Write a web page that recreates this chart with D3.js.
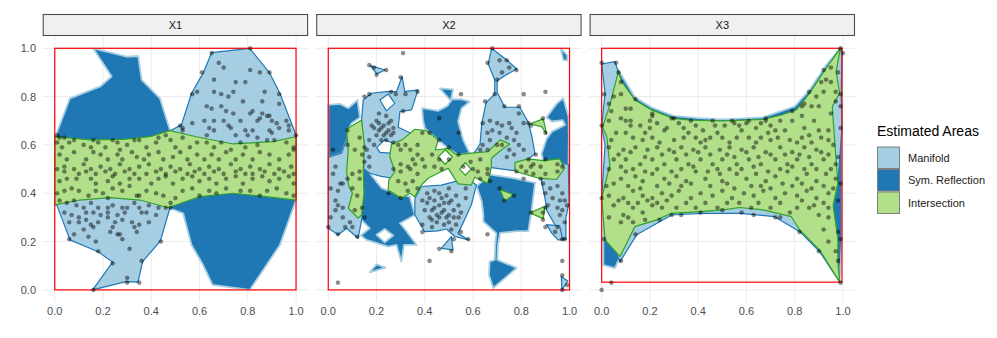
<!DOCTYPE html>
<html>
<head>
<meta charset="utf-8">
<script src="https://cdn.jsdelivr.net/npm/d3@7"></script>
<style>
  body { margin: 0; background: #fff; }
  svg { display: block; font-family: "Liberation Sans", Arial, sans-serif; }
</style>
</head>
<body>
<svg id="chart" width="997" height="338"></svg>
<script>
// ---- data ----
const facets = ['X1', 'X2', 'X3'];
const ticks = [0, 0.2, 0.4, 0.6, 0.8, 1.0];
const areaNames = ['Manifold', 'Sym. Reflection', 'Intersection'];

// red bounding boxes [x0, y0, x1, y1]
const redBoxes = [[0, 0, 1, 1], [0, 0, 1, 1], [0, 0.032, 0.996, 1]];

// each area = list of polygons, each polygon = list of rings (first outer, rest holes)
const manifoldX1 = [[[[0.0,0.634],[0.146,0.621],[0.284,0.623],[0.394,0.634],[0.477,0.659],[0.484,0.662],[0.525,0.683],[0.567,0.814],[0.615,0.897],[0.65,0.982],[0.808,1.0],[0.891,0.897],[0.933,0.814],[1.0,0.641],[1.0,0.372],[0.877,0.386],[0.739,0.40],[0.601,0.386],[0.477,0.338],[0.438,0.203],[0.364,0.117],[0.345,0.032],[0.295,0.034],[0.157,0.0],[0.24,0.115],[0.18,0.158],[0.063,0.207],[0.008,0.352]]]];
const symX1 = [[[[0.005,0.641],[0.063,0.793],[0.187,0.841],[0.236,0.883],[0.159,1.0],[0.298,0.965],[0.346,0.968],[0.36,0.869],[0.436,0.793],[0.477,0.662],[0.587,0.634],[0.739,0.604],[0.905,0.614],[1.0,0.634],[1.0,0.372],[0.933,0.186],[0.85,0.062],[0.808,0.0],[0.654,0.021],[0.615,0.103],[0.567,0.186],[0.532,0.317],[0.477,0.338],[0.353,0.372],[0.229,0.382],[0.104,0.372],[0.0,0.352]]]];
const interX1 = [[[[0.001,0.634],[0.146,0.621],[0.284,0.623],[0.394,0.634],[0.477,0.659],[0.587,0.634],[0.739,0.604],[0.905,0.614],[1.0,0.634],[1.0,0.372],[0.877,0.386],[0.739,0.40],[0.601,0.386],[0.47,0.34],[0.353,0.372],[0.229,0.382],[0.104,0.372],[0.0,0.352]]]];

const manifoldX2 = [
  [[[0.174,0.928],[0.201,0.894],[0.236,0.91]]],
  [[[0,0.549],[0.055,0.566],[0.076,0.621],[0.083,0.662],[0.14,0.70],[0.15,0.6],[0.148,0.45],[0.145,0.34],[0.14,0.30],[0.124,0.214],[0.076,0.255],[0.041,0.228],[0,0.255]]],
  [[[0.138,0.703],[0.145,0.786],[0.179,0.814],[0.241,0.821],[0.283,0.821],[0.306,0.883],[0.317,0.821],[0.372,0.828],[0.345,0.745],[0.297,0.738],[0.29,0.673],[0.36,0.64],[0.33,0.5],[0.28,0.46],[0.22,0.47],[0.172,0.483],[0.148,0.50],[0.145,0.6]],
   [[0.214,0.786],[0.248,0.811],[0.276,0.772],[0.241,0.741]],
   [[0.201,0.59],[0.234,0.621],[0.269,0.607],[0.255,0.566],[0.214,0.569]]],
  [[[0.359,0.379],[0.386,0.428],[0.469,0.434],[0.524,0.448],[0.572,0.462],[0.614,0.434],[0.593,0.352],[0.568,0.297],[0.538,0.234],[0.582,0.207],[0.524,0.221],[0.49,0.252],[0.455,0.244],[0.40,0.241],[0.379,0.276],[0.359,0.31]]],
  [[[0.469,0.172],[0.51,0.221],[0.517,0.166]]],
  [[[0.677,1.0],[0.746,0.946],[0.781,0.914],[0.739,0.891],[0.70,0.866],[0.70,0.818],[0.732,0.756],[0.794,0.756],[0.829,0.694],[0.843,0.639],[0.857,0.563],[0.829,0.542],[0.767,0.494],[0.66,0.508],[0.602,0.563],[0.629,0.604],[0.636,0.687],[0.654,0.775],[0.69,0.81],[0.69,0.869],[0.663,0.935]]],
  [[[0.88,0.52],[0.995,0.52],[0.998,0.36],[0.985,0.30],[0.985,0.21],[0.965,0.21],[0.945,0.26],[0.905,0.33],[0.90,0.37],[0.884,0.45]]],
  [[[0.905,0.27],[0.959,0.265],[0.972,0.207],[0.952,0.207],[0.927,0.234]]],
  [[[0.966,0.055],[0.993,0.037],[0.968,0.0]]]
];
const symX2 = [
  [[[0,0.766],[0.048,0.770],[0.083,0.752],[0.121,0.786],[0.131,0.714],[0.097,0.690],[0.083,0.662],[0.076,0.621],[0.055,0.566],[0,0.549]]],
  [[[0.462,0.834],[0.517,0.830],[0.508,0.783]]],
  [[[0.963,1.0],[0.99,0.972],[0.99,0.949],[0.974,0.952]]],
  [[[0.389,0.752],[0.455,0.741],[0.494,0.761],[0.513,0.789],[0.552,0.789],[0.586,0.779],[0.552,0.752],[0.538,0.697],[0.559,0.621],[0.586,0.566],[0.538,0.559],[0.497,0.586],[0.455,0.621],[0.40,0.669],[0.393,0.703]]],
  [[[0.974,0.793],[0.946,0.770],[0.905,0.714],[0.927,0.697],[0.972,0.703],[0.982,0.683],[0.927,0.655],[0.905,0.625],[0.884,0.563],[0.894,0.527],[0.996,0.517],[0.997,0.621],[0.996,0.717]]],
  [[[0.615,0.429],[0.670,0.477],[0.767,0.463],[0.857,0.443],[0.843,0.332],[0.829,0.243],[0.781,0.243],[0.712,0.236],[0.703,0.186],[0.701,0.124],[0.781,0.091],[0.684,0.008],[0.666,0.062],[0.669,0.117],[0.690,0.124],[0.692,0.186],[0.697,0.234],[0.643,0.283],[0.643,0.312],[0.636,0.367]]],
  [[[0.138,0.517],[0.172,0.483],[0.221,0.421],[0.276,0.40],[0.338,0.386],[0.359,0.310],[0.297,0.276],[0.32,0.248],[0.366,0.186],[0.314,0.186],[0.303,0.117],[0.283,0.186],[0.248,0.179],[0.159,0.207],[0.135,0.225],[0.172,0.255],[0.138,0.290],[0.124,0.352],[0.124,0.434],[0.131,0.49]],
   [[0.2,0.228],[0.234,0.252],[0.269,0.225],[0.234,0.197]]],
  [[[0.172,0.073],[0.237,0.092],[0.2,0.106]]]
];
const interX2 = [
  [[[0.076,0.665],[0.138,0.703],[0.15,0.6],[0.145,0.497],[0.148,0.40],[0.138,0.31],[0.124,0.297],[0.083,0.338],[0.10,0.40],[0.085,0.43],[0.076,0.49],[0.083,0.579]]],
  [[[0.262,0.604],[0.306,0.621],[0.359,0.665],[0.407,0.659],[0.455,0.621],[0.444,0.579],[0.497,0.586],[0.531,0.559],[0.593,0.566],[0.662,0.572],[0.712,0.621],[0.752,0.604],[0.717,0.579],[0.676,0.545],[0.676,0.510],[0.662,0.441],[0.607,0.466],[0.593,0.434],[0.538,0.439],[0.497,0.503],[0.469,0.49],[0.414,0.462],[0.386,0.434],[0.359,0.386],[0.338,0.40],[0.303,0.379],[0.248,0.414],[0.251,0.455],[0.276,0.49],[0.255,0.552]],
   [[0.455,0.55],[0.485,0.58],[0.515,0.55],[0.485,0.52]],
   [[0.545,0.50],[0.568,0.527],[0.592,0.50],[0.568,0.474]]],
  [[[0.774,0.528],[0.829,0.542],[0.891,0.535],[0.96,0.542],[0.979,0.503],[0.946,0.457],[0.870,0.463],[0.822,0.477],[0.774,0.491]]],
  [[[0.836,0.687],[0.891,0.708],[0.905,0.646],[0.884,0.676]]],
  [[[0.836,0.319],[0.898,0.346],[0.891,0.295]]],
  [[[0.712,0.415],[0.767,0.394],[0.732,0.367]]]
];

const manifoldX3 = [[[[0,0.935],[0.055,0.945],[0.069,0.903],[0.083,0.862],[0.138,0.786],[0.207,0.745],[0.297,0.71],[0.366,0.703],[0.503,0.699],[0.669,0.706],[0.745,0.724],[0.807,0.745],[0.862,0.814],[0.924,0.908],[0.989,1.0],[0.996,0.985],[0.993,0.80],[0.996,0.673],[0.979,0.434],[0.959,0.324],[0.979,0.207],[0.979,0.117],[0.986,0.034],[0.903,0.159],[0.821,0.241],[0.717,0.303],[0.579,0.317],[0.414,0.317],[0.29,0.31],[0.145,0.228],[0.076,0.117],[0.04,0.2],[0.0,0.379],[0.014,0.6],[0.0,0.676],[0.014,0.814]]]];
const symX3 = [[[[0.069,0.91],[0.138,0.797],[0.207,0.755],[0.297,0.72],[0.40,0.711],[0.503,0.706],[0.669,0.714],[0.738,0.738],[0.80,0.759],[0.862,0.828],[0.931,0.931],[0.989,1.0],[0.996,0.98],[0.996,0.2],[0.986,0.034],[0.903,0.166],[0.821,0.248],[0.786,0.303],[0.669,0.331],[0.572,0.341],[0.503,0.331],[0.407,0.324],[0.29,0.317],[0.228,0.29],[0.138,0.262],[0.076,0.138],[0.055,0.09],[0.007,0.103],[0.007,0.38],[0.034,0.503],[0.014,0.676],[0.034,0.766]]]];
const interX3 = [[[[0.004,0.673],[0.034,0.766],[0.069,0.903],[0.083,0.862],[0.138,0.786],[0.207,0.745],[0.297,0.71],[0.366,0.703],[0.503,0.699],[0.669,0.706],[0.745,0.724],[0.807,0.745],[0.862,0.814],[0.924,0.908],[0.989,1.0],[0.972,0.903],[0.986,0.814],[0.956,0.759],[0.959,0.71],[0.979,0.441],[0.959,0.35],[0.979,0.214],[0.979,0.117],[0.986,0.034],[0.903,0.166],[0.821,0.248],[0.786,0.303],[0.669,0.331],[0.572,0.341],[0.503,0.331],[0.407,0.324],[0.29,0.317],[0.228,0.29],[0.138,0.262],[0.076,0.138],[0.014,0.207],[0.0,0.379],[0.034,0.517],[0.021,0.634]]]];

const pointsX1 = [
  [0.68,0.94],[0.70,0.92],[0.81,0.91],[0.85,0.90],[0.66,0.87],[0.79,0.86],[0.75,0.86],[0.59,0.82],[0.66,0.82],[0.69,0.81],[0.74,0.82],[0.78,0.78],[0.87,0.82],[0.86,0.78],[0.93,0.77],[0.63,0.76],[0.69,0.76],[0.65,0.75],[0.71,0.74],[0.74,0.73],[0.81,0.73],[0.82,0.74],[0.86,0.73],[0.89,0.72],[0.90,0.70],[0.92,0.69],[0.62,0.70],[0.57,0.69],[0.66,0.70],[0.70,0.70],[0.77,0.70],[0.84,0.70],[0.85,0.71],[0.88,0.72],[0.53,0.67],[0.64,0.67],[0.66,0.66],[0.73,0.67],[0.72,0.68],[0.79,0.66],[0.82,0.66],[0.93,0.67],[0.97,0.68],[0.53,0.66],[0.63,0.64],[0.75,0.64],[0.80,0.64],[0.84,0.63],[0.89,0.66],[0.97,0.66],[0.90,0.65],[0.65,0.98],[0.81,1.0],[0.57,0.81],[0.89,0.90],[0.93,0.81],[0.52,0.68],[1.0,0.64],[0.61,0.90],[0.72,0.80],[0.96,0.70],
  [0.01,0.64],[0.02,0.63],[0.04,0.63],[0.08,0.62],[0.01,0.61],[0.03,0.59],[0.06,0.61],[0.12,0.60],[0.15,0.59],[0.16,0.62],[0.18,0.61],[0.21,0.59],[0.24,0.62],[0.26,0.61],[0.27,0.58],[0.30,0.60],[0.33,0.62],[0.35,0.62],[0.38,0.59],[0.42,0.61],[0.43,0.63],[0.46,0.64],[0.48,0.62],[0.50,0.59],[0.53,0.63],[0.56,0.59],[0.59,0.61],[0.63,0.61],[0.66,0.59],[0.69,0.61],[0.73,0.58],[0.77,0.61],[0.79,0.59],[0.84,0.60],[0.88,0.62],[0.91,0.62],[0.96,0.61],[0.99,0.59],
  [0.02,0.56],[0.05,0.54],[0.08,0.57],[0.13,0.54],[0.16,0.57],[0.19,0.56],[0.22,0.54],[0.26,0.56],[0.28,0.54],[0.32,0.57],[0.34,0.55],[0.37,0.54],[0.39,0.56],[0.43,0.57],[0.45,0.54],[0.49,0.55],[0.52,0.57],[0.55,0.54],[0.59,0.56],[0.62,0.54],[0.65,0.56],[0.68,0.54],[0.71,0.57],[0.75,0.54],[0.78,0.56],[0.82,0.54],[0.85,0.57],[0.89,0.56],[0.93,0.54],[0.97,0.56],[0.99,0.58],
  [0.04,0.51],[0.08,0.50],[0.12,0.52],[0.15,0.50],[0.19,0.51],[0.23,0.50],[0.27,0.52],[0.31,0.50],[0.35,0.51],[0.39,0.52],[0.44,0.50],[0.48,0.51],[0.52,0.50],[0.56,0.52],[0.60,0.50],[0.64,0.51],[0.68,0.50],[0.73,0.52],[0.77,0.50],[0.81,0.51],[0.85,0.50],[0.89,0.52],[0.93,0.50],[0.98,0.51],
  [0.01,0.50],[0.04,0.49],[0.10,0.48],[0.13,0.49],[0.17,0.48],[0.21,0.49],[0.25,0.48],[0.29,0.49],[0.33,0.48],[0.38,0.48],[0.42,0.49],[0.46,0.48],[0.50,0.49],[0.55,0.48],[0.58,0.49],[0.62,0.48],[0.66,0.49],[0.70,0.48],[0.75,0.49],[0.79,0.48],[0.82,0.48],[0.87,0.49],[0.91,0.48],[0.95,0.49],[0.99,0.48],
  [0.02,0.45],[0.05,0.46],[0.09,0.46],[0.15,0.46],[0.17,0.44],[0.22,0.45],[0.24,0.47],[0.27,0.44],[0.31,0.46],[0.35,0.46],[0.40,0.44],[0.43,0.46],[0.46,0.47],[0.49,0.44],[0.53,0.46],[0.57,0.47],[0.60,0.45],[0.64,0.46],[0.67,0.44],[0.71,0.46],[0.75,0.47],[0.78,0.44],[0.82,0.46],[0.86,0.47],[0.89,0.45],[0.93,0.46],[0.97,0.47],[0.99,0.44],
  [0.01,0.40],[0.04,0.41],[0.07,0.42],[0.10,0.41],[0.14,0.39],[0.17,0.41],[0.20,0.40],[0.24,0.42],[0.28,0.41],[0.31,0.43],[0.34,0.39],[0.38,0.41],[0.42,0.40],[0.45,0.39],[0.48,0.36],[0.50,0.38],[0.53,0.41],[0.57,0.42],[0.60,0.39],[0.64,0.41],[0.67,0.40],[0.71,0.42],[0.77,0.41],[0.81,0.41],[0.85,0.39],[0.88,0.41],[0.92,0.42],[0.96,0.40],[0.99,0.39],[0.02,0.37],[0.08,0.37],[0.22,0.38],[0.35,0.39],
  [0.05,0.36],[0.09,0.35],[0.12,0.34],[0.15,0.36],[0.18,0.34],[0.22,0.34],[0.24,0.35],[0.28,0.34],[0.30,0.34],[0.33,0.36],[0.35,0.34],[0.39,0.35],[0.43,0.34],[0.46,0.34],
  [0.04,0.32],[0.07,0.31],[0.10,0.30],[0.13,0.32],[0.16,0.32],[0.19,0.31],[0.22,0.32],[0.26,0.31],[0.29,0.32],[0.36,0.32],[0.38,0.32],[0.42,0.31],
  [0.06,0.28],[0.10,0.28],[0.13,0.29],[0.15,0.27],[0.18,0.28],[0.22,0.30],[0.25,0.28],[0.28,0.29],[0.32,0.28],[0.35,0.27],[0.39,0.28],
  [0.08,0.23],[0.14,0.22],[0.23,0.24],[0.26,0.23],[0.28,0.21],[0.33,0.26],[0.34,0.24],[0.27,0.23],[0.24,0.26],[0.16,0.26],[0.12,0.25],[0.31,0.17],[0.17,0.20],
  [0.06,0.21],[0.18,0.16],[0.24,0.11],[0.16,0.0],[0.30,0.03],[0.35,0.03],[0.36,0.12],[0.44,0.20],[0.30,0.05],[0.48,0.34]
];

const pointsX2 = [
  [0.31,0.98],[0.17,0.93],[0.20,0.89],[0.24,0.91],[0.19,0.92],[0.30,0.88],[0.28,0.81],[0.37,0.82],[0.32,0.81],[0.26,0.82],[0.17,0.81],[0.15,0.80],[0.31,0.74],[0.21,0.73],[0.24,0.72],[0.26,0.70],[0.21,0.69],[0.18,0.68],[0.19,0.67],[0.22,0.67],[0.25,0.66],[0.27,0.65],[0.24,0.65],[0.20,0.64],[0.22,0.62],[0.24,0.62],[0.17,0.62],[0.19,0.60],[0.16,0.58],[0.15,0.59],[0.14,0.56],[0.17,0.55],[0.15,0.53],[0.17,0.51],[0.11,0.58],[0.08,0.60],[0.08,0.66],[0.13,0.63],[0.02,0.58],[0.03,0.51],
  [0.23,0.68],[0.25,0.69],[0.21,0.66],[0.23,0.64],[0.26,0.64],[0.20,0.70],[0.27,0.67],
  [0.29,0.60],[0.32,0.60],[0.30,0.58],[0.34,0.58],[0.37,0.60],[0.39,0.65],[0.42,0.65],[0.37,0.56],[0.35,0.54],[0.33,0.51],[0.36,0.52],[0.39,0.54],[0.40,0.51],[0.30,0.52],[0.43,0.56],[0.46,0.54],[0.44,0.51],[0.47,0.50],[0.46,0.62],[0.46,0.71],[0.27,0.61],
  [0.68,1.0],[0.66,0.94],[0.71,0.95],[0.74,0.95],[0.75,0.92],[0.78,0.91],[0.72,0.90],[0.70,0.87],[0.69,0.81],[0.55,0.81],[0.81,0.81],[0.90,0.82],[0.65,0.78],[0.73,0.76],[0.79,0.76],[0.79,0.73],[0.75,0.69],[0.70,0.69],[0.67,0.70],[0.64,0.69],[0.72,0.68],[0.76,0.67],[0.81,0.69],[0.83,0.69],[0.89,0.71],[0.90,0.65],[0.84,0.68],[0.68,0.66],[0.66,0.65],[0.71,0.65],[0.74,0.63],[0.78,0.65],[0.77,0.62],[0.79,0.60],[0.70,0.60],[0.67,0.62],[0.64,0.60],[0.63,0.58],[0.66,0.58],[0.72,0.60],[0.75,0.58],[0.81,0.58],[0.77,0.56],[0.86,0.56],[0.83,0.54],[0.74,0.55],[0.54,0.65],[0.50,0.59],[0.50,0.54],[0.54,0.56],[0.59,0.53],[0.63,0.54],[0.66,0.50],[0.60,0.50],[0.56,0.51],[0.85,0.52],[0.84,0.51],[0.88,0.51],[0.90,0.54],[0.95,0.52],[0.97,0.51],[0.80,0.51],
  [0.02,0.48],[0.01,0.42],[0.04,0.41],[0.05,0.44],[0.03,0.37],[0.04,0.35],[0.06,0.34],[0.03,0.33],[0.06,0.30],[0.01,0.30],[0.00,0.26],[0.04,0.23],[0.10,0.26],[0.12,0.22],[0.07,0.26],[0.09,0.28],[0.06,0.44],[0.08,0.46],[0.10,0.48],[0.13,0.46],[0.13,0.49],[0.10,0.42],[0.12,0.39],[0.14,0.34],[0.15,0.30],[0.11,0.33],
  [0.27,0.50],[0.30,0.49],[0.34,0.50],[0.37,0.48],[0.29,0.45],[0.32,0.44],[0.35,0.45],[0.37,0.42],[0.30,0.38],[0.33,0.41],[0.25,0.40],
  [0.39,0.37],[0.42,0.38],[0.44,0.37],[0.47,0.38],[0.50,0.36],[0.40,0.33],[0.43,0.33],[0.46,0.35],[0.48,0.33],[0.45,0.31],[0.42,0.30],[0.46,0.30],[0.49,0.30],[0.39,0.27],[0.43,0.26],[0.39,0.24],[0.46,0.17],[0.42,0.12],[0.04,0.03],
  [0.41,0.36],[0.44,0.34],[0.47,0.32],[0.43,0.29],[0.45,0.28],[0.48,0.27],[0.50,0.28],[0.52,0.30],[0.48,0.36],[0.46,0.40],[0.49,0.39],[0.44,0.41],[0.41,0.40],
  [0.50,0.42],[0.53,0.39],[0.51,0.37],[0.54,0.35],[0.52,0.33],[0.50,0.31],[0.54,0.30],[0.55,0.32],[0.53,0.27],[0.51,0.25],[0.55,0.24],[0.52,0.21],[0.58,0.21],[0.51,0.16],[0.57,0.42],[0.57,0.38],
  [0.78,0.49],[0.82,0.49],[0.85,0.48],[0.90,0.48],[0.95,0.49],[0.81,0.46],[0.88,0.46],[0.62,0.49],[0.66,0.48],[0.63,0.46],[0.67,0.45],[0.71,0.42],[0.77,0.39],[0.73,0.37],
  [0.89,0.44],[0.92,0.42],[0.95,0.43],[0.97,0.40],[0.90,0.40],[0.93,0.38],[0.96,0.37],[0.98,0.37],[0.91,0.35],[0.95,0.34],[0.97,0.33],[0.99,0.35],[0.89,0.32],[0.84,0.32],[0.90,0.34],[0.89,0.29],[0.96,0.31],[0.98,0.28],[0.90,0.26],[0.95,0.26],[0.97,0.21],[0.98,0.21],[0.94,0.24],[0.66,0.23],[0.97,0.12],[0.97,0.06],[0.99,0.02],[0.97,0.0]
];

const pointsX3 = [
  [0.0,0.94],[0.06,0.94],[0.07,0.90],[0.08,0.86],[0.08,0.81],[0.01,0.81],[0.03,0.77],[0.04,0.74],[0.0,0.68],[0.99,1.0],[1.0,0.98],[0.98,0.90],[0.95,0.92],[0.92,0.91],[0.93,0.87],[0.86,0.82],[0.92,0.82],[0.97,0.82],[0.99,0.81],[0.83,0.76],[0.87,0.76],[0.90,0.76],[0.99,0.76],[0.79,0.74],[0.83,0.72],[0.99,0.67],[0.94,0.66],[0.90,0.66],[0.86,0.64],
  [0.10,0.75],[0.12,0.75],[0.08,0.71],[0.10,0.70],[0.14,0.79],[0.21,0.72],[0.20,0.70],[0.30,0.71],[0.37,0.70],[0.46,0.70],[0.54,0.70],[0.61,0.70],[0.68,0.70],[0.16,0.68],[0.20,0.67],[0.27,0.67],[0.34,0.67],[0.39,0.68],[0.47,0.68],[0.51,0.68],[0.60,0.69],[0.64,0.67],[0.70,0.68],[0.74,0.70],[0.79,0.70],
  [0.06,0.65],[0.10,0.65],[0.13,0.63],[0.17,0.62],[0.21,0.63],[0.26,0.66],[0.30,0.62],[0.34,0.63],[0.39,0.63],[0.43,0.62],[0.45,0.63],[0.50,0.63],[0.56,0.63],[0.61,0.63],[0.66,0.63],[0.70,0.62],[0.73,0.63],[0.78,0.62],[0.83,0.63],[0.94,0.62],
  [0.03,0.59],[0.09,0.58],[0.14,0.59],[0.19,0.58],[0.23,0.59],[0.28,0.58],[0.33,0.59],[0.38,0.58],[0.43,0.59],[0.49,0.58],[0.53,0.59],[0.58,0.58],[0.63,0.59],[0.68,0.57],[0.74,0.59],[0.79,0.57],[0.84,0.59],[0.89,0.58],[0.94,0.56],[0.98,0.55],
  [0.05,0.54],[0.10,0.54],[0.16,0.52],[0.21,0.54],[0.26,0.52],[0.31,0.54],[0.36,0.52],[0.41,0.54],[0.46,0.52],[0.50,0.54],[0.56,0.52],[0.61,0.54],[0.66,0.52],[0.72,0.54],[0.77,0.52],[0.81,0.54],[0.87,0.52],[0.92,0.54],[0.97,0.52],
  [0.02,0.43],[0.08,0.46],[0.10,0.49],[0.14,0.47],[0.17,0.45],[0.21,0.48],[0.26,0.46],[0.31,0.47],[0.35,0.45],[0.39,0.49],[0.43,0.46],[0.48,0.50],[0.52,0.44],[0.56,0.48],[0.60,0.46],[0.64,0.48],[0.68,0.45],[0.72,0.47],[0.77,0.49],[0.81,0.46],[0.85,0.48],[0.89,0.45],[0.93,0.48],[0.97,0.46],[0.99,0.44],
  [0.03,0.39],[0.09,0.38],[0.13,0.41],[0.17,0.39],[0.21,0.38],[0.25,0.40],[0.29,0.39],[0.32,0.41],[0.37,0.38],[0.41,0.40],[0.46,0.39],[0.50,0.41],[0.54,0.38],[0.59,0.40],[0.63,0.39],[0.67,0.41],[0.72,0.38],[0.76,0.40],[0.81,0.39],[0.85,0.41],[0.89,0.38],[0.94,0.40],
  [0.0,0.38],[0.05,0.35],[0.09,0.31],[0.13,0.34],[0.17,0.32],[0.21,0.35],[0.25,0.34],[0.31,0.34],[0.39,0.34],[0.48,0.34],[0.62,0.34],[0.70,0.34],[0.78,0.32],[0.81,0.34],[0.86,0.34],[0.90,0.31],[0.94,0.34],[0.98,0.37],
  [0.03,0.30],[0.08,0.28],[0.13,0.28],[0.24,0.29],[0.94,0.30],[0.92,0.25],[0.98,0.24],[0.94,0.20],[0.97,0.16],[0.98,0.12],[0.99,0.21],[0.99,0.03],
  [0.14,0.23],[0.29,0.31],[0.33,0.31],[0.41,0.32],[0.50,0.33],[0.58,0.32],[0.63,0.31],[0.72,0.30],[0.74,0.30],[0.82,0.24],[0.90,0.16],[0.08,0.12],[0.01,0.21],[0.04,0.03],[0.0,0.0],
  [0.21,0.73],[0.29,0.71],[0.55,0.69],[0.68,0.71],
  [0.12,0.70],[0.18,0.65],[0.24,0.61],[0.36,0.65],[0.41,0.61],[0.48,0.65],[0.53,0.61],[0.58,0.66],[0.64,0.61],[0.69,0.65],[0.76,0.66],[0.81,0.61],[0.87,0.61],[0.91,0.63],[0.96,0.60],[0.07,0.56],[0.12,0.57],[0.18,0.55],[0.25,0.56],[0.30,0.57],[0.35,0.56],[0.40,0.57],[0.45,0.56],[0.52,0.56],[0.55,0.55],[0.60,0.57],[0.65,0.55],[0.70,0.56],[0.76,0.56],[0.82,0.56],[0.86,0.55],[0.91,0.57],
  [0.03,0.50],[0.08,0.51],[0.13,0.50],[0.18,0.49],[0.23,0.50],[0.29,0.49],[0.33,0.50],[0.38,0.51],[0.44,0.49],[0.49,0.48],[0.53,0.50],[0.58,0.50],[0.63,0.51],[0.69,0.49],[0.74,0.50],[0.79,0.51],[0.84,0.50],[0.89,0.50],[0.95,0.50],
  [0.05,0.44],[0.11,0.43],[0.16,0.42],[0.23,0.43],[0.28,0.44],[0.33,0.43],[0.37,0.44],[0.45,0.43],[0.50,0.45],[0.55,0.42],[0.62,0.43],[0.66,0.43],[0.70,0.42],[0.75,0.44],[0.79,0.43],[0.83,0.44],[0.87,0.42],[0.92,0.43],[0.96,0.42],
  [0.07,0.37],[0.11,0.36],[0.15,0.36],[0.19,0.37],[0.23,0.36],[0.27,0.37],[0.35,0.36],[0.43,0.36],[0.52,0.36],[0.57,0.36],[0.65,0.36],[0.74,0.36],[0.83,0.37],[0.88,0.35],[0.92,0.36],[0.11,0.30],[0.18,0.29],
  [0.04,0.62],[0.03,0.70],[0.05,0.80],[0.12,0.68],[0.23,0.69],[0.32,0.69],[0.42,0.66],[0.57,0.68],[0.66,0.69],[0.72,0.66],[0.84,0.67],[0.88,0.70],[0.95,0.73],[0.97,0.78],[0.91,0.86],[0.95,0.86],[0.89,0.80],[0.84,0.77]
];

const panels = [
  { manifold: manifoldX1, sym: symX1, inter: interX1, pts: pointsX1 },
  { manifold: manifoldX2, sym: symX2, inter: interX2, pts: pointsX2 },
  { manifold: manifoldX3, sym: symX3, inter: interX3, pts: pointsX3 }
];

// ---- layout ----
const panelLeft = [42.7, 316.2, 589.6];
const panelW = 265.4, panelTop = 36.2, panelH = 265.8;
const stripTop = 14, stripH = 22;
const styles = {
  manifold: { fill: '#a6cee3', stroke: '#1f78b4', sw: 1.2 },
  sym: { fill: '#1f78b4', stroke: '#a6cee3', sw: 1.8 },
  inter: { fill: '#b2df8a', stroke: '#33a02c', sw: 1.2 }
};

const svg = d3.select('#chart');
svg.append('rect').attr('width', 997).attr('height', 338).attr('fill', '#fff');

const y = d3.scaleLinear().domain([-0.05, 1.05]).range([panelTop + panelH, panelTop]);

panels.forEach((p, i) => {
  const x = d3.scaleLinear().domain([-0.05, 1.05]).range([panelLeft[i], panelLeft[i] + panelW]);
  const g = svg.append('g');

  // grid
  g.selectAll('.vg').data(ticks).enter().append('line')
    .attr('x1', d => x(d)).attr('x2', d => x(d))
    .attr('y1', panelTop).attr('y2', panelTop + panelH)
    .attr('stroke', '#ebebeb').attr('stroke-width', 1);
  g.selectAll('.hg').data(ticks).enter().append('line')
    .attr('y1', d => y(d)).attr('y2', d => y(d))
    .attr('x1', panelLeft[i]).attr('x2', panelLeft[i] + panelW)
    .attr('stroke', '#ebebeb').attr('stroke-width', 1);

  // strip
  svg.append('rect')
    .attr('x', panelLeft[i] + 0.5).attr('y', stripTop + 0.5)
    .attr('width', panelW - 1).attr('height', stripH - 1)
    .attr('fill', '#f0f0f0').attr('stroke', '#4d4d4d').attr('stroke-width', 1.1);
  svg.append('text')
    .attr('x', panelLeft[i] + panelW / 2).attr('y', stripTop + stripH / 2 + 4)
    .attr('text-anchor', 'middle').attr('font-size', 11).attr('fill', '#1a1a1a')
    .text(facets[i]);

  // x tick labels
  g.selectAll('.xt').data(ticks).enter().append('text')
    .attr('x', d => x(d)).attr('y', 315)
    .attr('text-anchor', 'middle').attr('font-size', 11).attr('fill', '#4d4d4d')
    .text(d => d3.format('.1f')(d));

  const line = d3.line().x(d => x(d[0])).y(d => y(d[1]));
  const polyPath = poly => poly.map(r => line(r) + 'Z').join('');

  ['sym', 'manifold', 'inter'].forEach(key => {
    const st = styles[key];
    g.selectAll('.a-' + key).data(p[key]).enter().append('path')
      .attr('d', polyPath)
      .attr('fill', st.fill)
      .attr('fill-rule', 'evenodd')
      .attr('stroke', st.stroke)
      .attr('stroke-width', st.sw)
      .attr('stroke-linejoin', 'round');
  });

  // red box
  const b = redBoxes[i];
  g.append('rect')
    .attr('x', x(b[0])).attr('y', y(b[3]))
    .attr('width', x(b[2]) - x(b[0])).attr('height', y(b[1]) - y(b[3]))
    .attr('fill', 'none').attr('stroke', '#ff0000').attr('stroke-width', 1.2);

  // points
  g.selectAll('circle').data(p.pts).enter().append('circle')
    .attr('cx', d => x(d[0])).attr('cy', d => y(d[1]))
    .attr('r', 2.1)
    .attr('fill', '#000').attr('fill-opacity', 0.45)
    .attr('stroke', '#000').attr('stroke-opacity', 0.2).attr('stroke-width', 0.6);
});

// y tick labels (first panel only)
svg.selectAll('.yt').data(ticks).enter().append('text')
  .attr('x', 36).attr('y', d => y(d) + 4)
  .attr('text-anchor', 'end').attr('font-size', 11).attr('fill', '#4d4d4d')
  .text(d => d3.format('.1f')(d));

// legend
const legend = svg.append('g').attr('transform', 'translate(877,0)');
legend.append('text').attr('x', 0).attr('y', 136)
  .attr('font-size', 14).attr('fill', '#000').text('Estimated Areas');
const keyFill = [styles.manifold.fill, styles.sym.fill, styles.inter.fill];
areaNames.forEach((name, k) => {
  const ky = 146.5 + k * 22.5;
  legend.append('rect')
    .attr('x', 0.5).attr('y', ky + 0.5).attr('width', 22).attr('height', 21.5)
    .attr('fill', keyFill[k]).attr('stroke', '#7f7f7f').attr('stroke-width', 1);
  legend.append('text').attr('x', 31).attr('y', ky + 15)
    .attr('font-size', 11).attr('fill', '#1a1a1a').text(name);
});
</script>
</body>
</html>
